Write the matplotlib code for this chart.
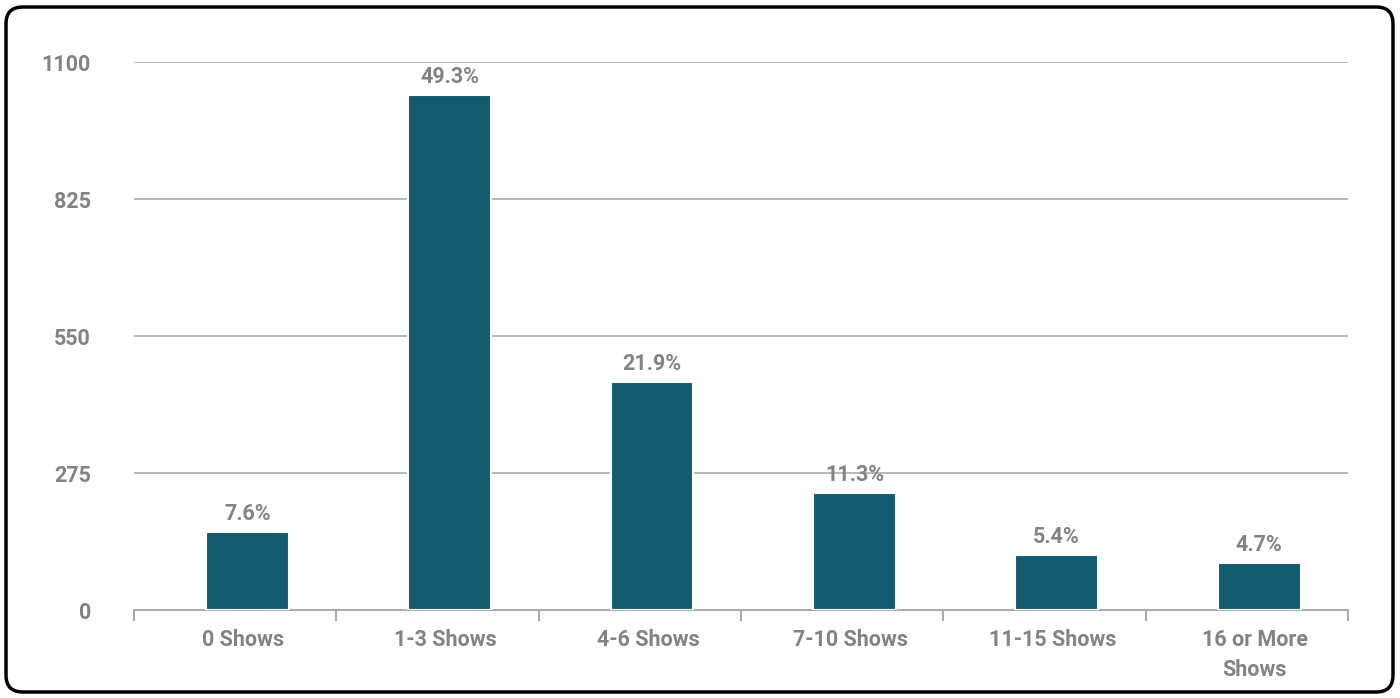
import matplotlib
matplotlib.use("Agg")
import matplotlib.pyplot as plt
from matplotlib.patches import FancyBboxPatch

categories = ["0 Shows", "1-3 Shows", "4-6 Shows", "7-10 Shows", "11-15 Shows", "16 or More\nShows"]
values = [157, 1034, 458, 235, 111, 95]
pct_labels = ["7.6%", "49.3%", "21.9%", "11.3%", "5.4%", "4.7%"]
yticks = [0, 275, 550, 825, 1100]

plt.rcParams['font.family'] = ['Roboto', 'DejaVu Sans']

TXT = "#838383"
BAR = "#125B6E"
GRID = "#ABABAB"
OFF = 0.06  # bars sit slightly right of slot centres

fig = plt.figure(figsize=(14, 6.98), dpi=100)
ax = fig.add_axes([0.0957, 0.126, 0.8672, 0.785])

x = list(range(len(categories)))
xb = [i + OFF for i in x]
ax.bar(xb, values, width=0.41, color=BAR, edgecolor="white", linewidth=1.5, zorder=3)
for xi, v, lab in zip(xb, values, pct_labels):
    ax.text(xi, v + 14, lab, ha="center", va="bottom", fontsize=15.5, fontweight="bold", color=TXT)

ax.set_xlim(-0.5, len(categories) - 0.5)
ax.set_ylim(0, 1100)
ax.set_yticks(yticks)
ax.set_yticklabels([str(t) for t in yticks], fontsize=15.5, fontweight="bold", color=TXT)
ax.yaxis.grid(True, color=GRID, linewidth=1.2, zorder=0)
ax.tick_params(axis="y", length=0, pad=31)

ax.set_xticks([i + 0.04 for i in x])
ax.set_xticklabels(categories, fontsize=15.5, fontweight="bold", color=TXT, linespacing=1.45)
ax.set_xticks([i - 0.5 for i in range(len(categories) + 1)], minor=True)
ax.tick_params(axis="x", which="major", length=0, pad=14)
ax.tick_params(axis="x", which="minor", length=8, width=1.5, color=GRID)

for s in ["top", "right", "left"]:
    ax.spines[s].set_visible(False)
ax.spines["bottom"].set_color(GRID)
ax.spines["bottom"].set_linewidth(1.5)

border = FancyBboxPatch((6 / 1400, 6 / 698), 1 - 13 / 1400, 1 - 13 / 698,
                        boxstyle="round,pad=0,rounding_size=0.012",
                        transform=fig.transFigure, fill=False, edgecolor="black",
                        linewidth=2.5, mutation_aspect=1400 / 698)
fig.patches.append(border)

fig.savefig("out.png", dpi=100)
